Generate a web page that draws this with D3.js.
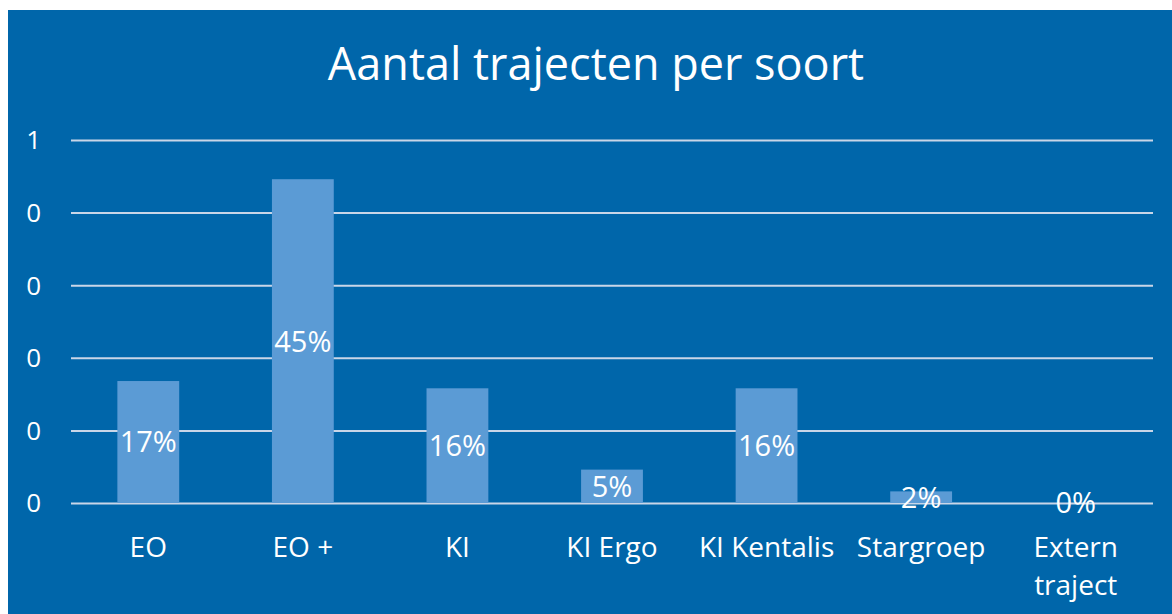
<!DOCTYPE html>
<meta charset="utf-8">
<style>
body { margin: 0; background: #fff; }
text { font-family: "Open Sans", "Noto Sans", sans-serif; fill: #fff; }
.grid line { stroke: #c9d6e8; stroke-width: 2px; }
.grid path { display: none; }
</style>
<svg width="1172" height="614"></svg>
<script src="https://d3js.org/d3.v7.min.js"></script>
<script>

var categories = ["EO", "EO +", "KI", "KI Ergo", "KI Kentalis", "Stargroep", "Extern traject"];
var values = [0.168, 0.446, 0.158, 0.046, 0.158, 0.016, 0.00];
var yTicks = [0, 0.1, 0.2, 0.3, 0.4, 0.5];

var svg = d3.select("svg"),
    width = +svg.attr("width"),
    height = +svg.attr("height");

var margin = {top: 140, right: 19, bottom: 111, left: 71};

svg.append("rect")
    .attr("x", 8)
    .attr("y", 10)
    .attr("width", width - 8)
    .attr("height", height - 10)
    .attr("fill", "#0066aa");

var x = d3.scaleBand()
    .domain(categories)
    .range([margin.left, width - margin.right])
    .paddingInner(0.6)
    .paddingOuter(0.3);

var y = d3.scaleLinear()
    .domain([0, 0.5])
    .range([height - margin.bottom, margin.top]);

svg.append("g")
    .attr("class", "grid")
    .attr("transform", "translate(" + margin.left + ",0)")
    .call(d3.axisLeft(y).tickValues(yTicks).tickSize(-(width - margin.left - margin.right)).tickFormat(""));

// y tick labels (Excel rounds to 0 decimals)
svg.append("g")
  .selectAll("text")
  .data(yTicks)
  .enter().append("text")
    .attr("x", 41)
    .attr("y", function(d) { return y(d); })
    .attr("dy", "0.36em")
    .attr("text-anchor", "end")
    .style("font-size", "26px")
    .text(function(d) { return Math.round(d); });

svg.append("g")
  .selectAll("rect")
  .data(values)
  .enter().append("rect")
    .attr("x", function(d, i) { return x(categories[i]); })
    .attr("y", function(d) { return y(d); })
    .attr("width", x.bandwidth())
    .attr("height", function(d) { return y(0) - y(d); })
    .attr("fill", "#5b9bd5");

svg.append("g")
  .selectAll("text")
  .data(values)
  .enter().append("text")
    .attr("x", function(d, i) { return x(categories[i]) + x.bandwidth() / 2; })
    .attr("y", function(d) { return (y(d) + y(0)) / 2; })
    .attr("dy", "0.36em")
    .attr("text-anchor", "middle")
    .style("font-size", "29px")
    .text(function(d) { return Math.round(d * 100) + "%"; });

// category labels, wrapped like Excel
var xl = svg.append("g")
  .selectAll("text")
  .data(categories)
  .enter().append("text")
    .attr("text-anchor", "middle")
    .attr("y", 557)
    .style("font-size", "28px");

xl.each(function(d) {
  var t = d3.select(this),
      cx = x(d) + x.bandwidth() / 2,
      lines = d === "Extern traject" ? ["Extern", "traject"] : [d];
  lines.forEach(function(l, i) {
    t.append("tspan").attr("x", cx).attr("dy", i ? 38 : 0).text(l);
  });
});

svg.append("text")
    .attr("x", 596)
    .attr("y", 80)
    .attr("text-anchor", "middle")
    .style("font-size", "45px")
    .text("Aantal trajecten per soort");

</script>
